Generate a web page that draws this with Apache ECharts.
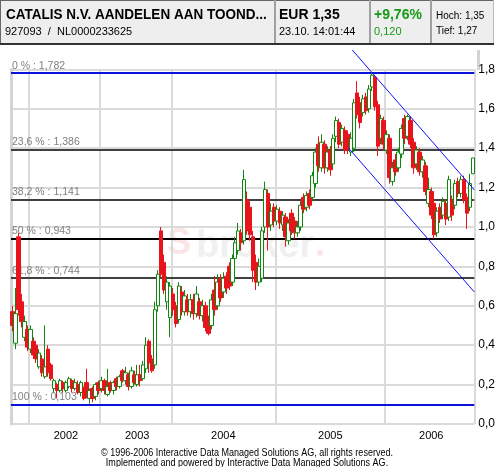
<!DOCTYPE html>
<html><head><meta charset="utf-8">
<script src="https://cdn.jsdelivr.net/npm/echarts@6/dist/echarts.min.js"></script>
<style>html,body{margin:0;padding:0;background:#fff}#c{width:498px;height:467px}</style>
</head><body><div id="c"></div>
<script>
// ---- data: one candle = [open, close, low, high] ----
const years = ['2001', '2002', '2003', '2004', '2005', '2006'];
const ohlc2001 = [[0.57,0.50,0.47,0.60],[0.41,0.56,0.38,0.69],[0.95,0.58,0.55,0.97],[0.62,0.52,0.49,0.66],[0.44,0.52,0.42,0.55],[0.48,0.39,0.37,0.50]];
const ohlc2002 = [[0.38,0.48,0.36,0.50],[0.42,0.35,0.33,0.44],[0.40,0.33,0.31,0.41],[0.29,0.36,0.28,0.38],[0.33,0.26,0.24,0.35],[0.24,0.29,0.23,0.50],
  [0.38,0.26,0.24,0.40],[0.30,0.23,0.22,0.31],[0.18,0.22,0.16,0.23],[0.20,0.17,0.13,0.21],[0.17,0.22,0.16,0.23],[0.21,0.18,0.16,0.22],
  [0.17,0.21,0.16,0.22],[0.19,0.23,0.18,0.24],[0.22,0.18,0.16,0.23],[0.18,0.21,0.17,0.23],[0.20,0.16,0.15,0.22],[0.16,0.21,0.14,0.22],
  [0.18,0.13,0.12,0.19],[0.21,0.15,0.13,0.28],[0.13,0.17,0.103,0.18],[0.18,0.13,0.11,0.19],[0.14,0.20,0.12,0.21],[0.21,0.17,0.15,0.22]];
const ohlc2003 = [[0.18,0.22,0.16,0.24],[0.22,0.17,0.15,0.23],[0.15,0.19,0.14,0.28],[0.21,0.17,0.16,0.22],[0.17,0.21,0.15,0.22],[0.23,0.19,0.17,0.24],
  [0.19,0.24,0.18,0.25],[0.27,0.22,0.21,0.28],[0.22,0.26,0.20,0.29],[0.25,0.19,0.17,0.26],[0.19,0.27,0.18,0.29],[0.25,0.21,0.20,0.27],
  [0.20,0.25,0.19,0.30],[0.25,0.22,0.19,0.30],[0.23,0.30,0.22,0.32],[0.28,0.40,0.26,0.44],[0.42,0.31,0.26,0.43],[0.33,0.27,0.26,0.35],
  [0.30,0.58,0.28,0.62],[0.60,0.76,0.57,0.78],[0.98,0.76,0.74,1.00],[0.82,0.68,0.66,0.86],[0.62,0.72,0.58,0.75],[0.54,0.70,0.44,0.72]];
const ohlc2004 = [[0.66,0.58,0.55,0.69],[0.60,0.51,0.49,0.62],[0.53,0.70,0.51,0.72],[0.67,0.57,0.55,0.70],[0.57,0.65,0.55,0.68],[0.63,0.57,0.55,0.66],
  [0.57,0.63,0.54,0.66],[0.63,0.56,0.53,0.66],[0.56,0.66,0.54,0.70],[0.62,0.55,0.53,0.64],[0.55,0.60,0.52,0.63],[0.60,0.49,0.47,0.62],
  [0.52,0.46,0.45,0.55],[0.50,0.63,0.48,0.66],[0.68,0.58,0.55,0.75],[0.60,0.72,0.58,0.76],[0.74,0.64,0.62,0.76],[0.67,0.74,0.64,0.77],
  [0.75,0.69,0.66,0.77],[0.80,0.70,0.68,0.82],[0.72,0.84,0.70,0.86],[0.84,0.92,0.82,0.95],[0.88,0.98,0.86,1.02],[0.97,0.92,0.88,0.99],
  [0.93,1.24,0.91,1.29],[1.14,0.98,0.96,1.18],[1.10,0.96,0.93,1.13],[0.95,0.78,0.72,0.98],[0.82,0.72,0.68,0.86],[0.72,0.80,0.70,0.84],
  [0.74,0.98,0.72,1.00],[1.00,1.19,0.97,1.23],[1.17,1.00,0.88,1.19],[1.01,1.08,0.98,1.12],[1.10,1.03,1.00,1.12]];
const ohlc2005 = [[1.03,1.09,1.01,1.11],[1.08,1.02,0.99,1.10],[1.01,1.06,0.98,1.08],[1.05,0.95,0.90,1.07],[0.93,1.02,0.91,1.04],[1.07,0.98,0.96,1.09],
  [1.03,0.97,0.94,1.05],[0.97,1.00,0.95,1.03],[1.00,1.11,0.98,1.13],[1.15,1.09,1.07,1.17],[1.10,1.16,1.08,1.18],[1.17,1.11,1.09,1.19],
  [1.15,1.26,1.13,1.28],[1.22,1.38,1.20,1.40],[1.42,1.31,1.28,1.46],[1.30,1.43,1.28,1.47],[1.42,1.30,1.27,1.44],[1.30,1.38,1.28,1.41],
  [1.39,1.29,1.26,1.41],[1.32,1.45,1.30,1.47],[1.46,1.54,1.43,1.56],[1.53,1.42,1.40,1.55],[1.43,1.50,1.41,1.52],[1.49,1.39,1.37,1.51],
  [1.47,1.39,1.37,1.49],[1.38,1.45,1.36,1.48],[1.40,1.63,1.38,1.65],[1.68,1.57,1.55,1.74],[1.63,1.53,1.50,1.66],[1.58,1.65,1.56,1.67],
  [1.66,1.59,1.57,1.68],[1.60,1.70,1.58,1.72],[1.71,1.77,1.69,1.782],[1.76,1.61,1.59,1.77],[1.62,1.41,1.36,1.64],[1.45,1.55,1.42,1.57],
  [1.54,1.42,1.39,1.56]];
const ohlc2006 = [[1.39,1.47,1.37,1.49],[1.45,1.25,1.22,1.47],[1.23,1.30,1.21,1.33],[1.34,1.28,1.26,1.37],[1.30,1.38,1.28,1.40],[1.37,1.50,1.35,1.52],
  [1.55,1.45,1.42,1.57],[1.46,1.56,1.44,1.57],[1.54,1.42,1.40,1.56],[1.43,1.30,1.27,1.45],[1.32,1.39,1.29,1.41],[1.38,1.28,1.26,1.40],
  [1.28,1.34,1.25,1.36],[1.31,1.18,1.16,1.33],[1.12,1.19,1.10,1.25],[1.18,1.06,1.04,1.20],[1.12,0.96,0.94,1.14],[0.97,1.08,0.95,1.10],
  [1.10,1.04,1.02,1.12],[1.06,1.13,1.04,1.15],[1.12,1.04,1.01,1.14],[1.05,1.24,1.03,1.26],[1.14,1.06,1.03,1.16],[1.11,1.22,1.09,1.24],
  [1.23,1.17,1.15,1.25],[1.17,1.24,1.15,1.26],[1.24,1.14,1.12,1.26],[1.15,1.07,0.99,1.17],[1.10,1.22,1.08,1.27],[1.27,1.35,1.27,1.35]];
const yTickLabels = ['0,0','0,2','0,4','0,6','0,8','1,0','1,2','1,4','1,6','1,8'];
const fibLevels = [1.782, 1.386, 1.141, 0.943, 0.744, 0.103];
const fibNames = ['0 %', '23,6 %', '38,2 %', '50 %', '61,8 %', '100 %'];
const fibColors = ['#0a14d8', '#404040', '#404040', '#000000', '#404040', '#0a14d8'];
// trend channel, in [candle position, price]
const upperTrend = [[114.9, 1.898], [156, 1.188]];
const lowerTrend = [[113.6, 1.401], [156, 0.670]];

// ---- build ----
const perYear = [ohlc2001, ohlc2002, ohlc2003, ohlc2004, ohlc2005, ohlc2006];
const categories = [], candles = [], yearStart = [], yearMid = [];
perYear.forEach((arr, k) => {
  yearStart.push(categories.length);
  yearMid.push(categories.length + Math.floor(arr.length / 2));
  arr.forEach((d, j) => { categories.push(years[k] + '/' + (j + 1)); candles.push(d); });
});
const N = categories.length;
const labelIdx = yearMid.slice(1);
const FONT = '"Liberation Sans", Arial, sans-serif';

const chart = echarts.init(document.getElementById('c'), null, {renderer: 'canvas'});
chart.setOption({
  animation: false,
  backgroundColor: '#ffffff',
  grid: {left: 11, right: 20, top: 69.3, bottom: 43, containLabel: false},
  xAxis: [{
    type: 'category', data: categories, boundaryGap: true,
    axisLine: {show: false}, axisTick: {show: false},
    axisLabel: {interval: (i) => labelIdx.indexOf(i) >= 0, formatter: (v) => v.split('/')[0],
      color: '#000', fontSize: 11, fontFamily: FONT, margin: 6},
    splitLine: {show: true, interval: (i) => yearStart.indexOf(i) >= 0, lineStyle: {color: '#dadada', width: 2}}
  }, {
    type: 'value', min: 0, max: N, show: false
  }],
  yAxis: [{
    type: 'value', position: 'right', min: 0, max: 1.8, interval: 0.2,
    axisLine: {show: true, lineStyle: {color: '#d4d4d4', width: 3}}, axisTick: {show: false},
    axisLabel: {formatter: (v, i) => yTickLabels[Math.round(v / 0.2)], color: '#000', fontSize: 12, fontFamily: FONT, margin: 4},
    splitLine: {show: true, lineStyle: {color: '#dadada', width: 2}}
  }],
  series: [{
    type: 'candlestick', xAxisIndex: 0, yAxisIndex: 0, data: candles, barWidth: 4, z: 3,
    itemStyle: {color: '#ffffff', color0: '#e8141c', borderColor: '#0f870f', borderColor0: '#e8141c', borderWidth: 1},
    markLine: {
      silent: true, symbol: 'none', z: 1, animation: false,
      data: fibLevels.map((v, i) => ({
        yAxis: v,
        lineStyle: {color: fibColors[i], width: 2, type: 'solid'},
        label: {show: true, position: 'insideStartTop', distance: [1, 2],
          formatter: fibNames[i] + ' : ' + v.toFixed(3).replace('.', ','),
          color: '#808080', fontSize: 10.5, fontFamily: FONT}
      }))
    }
  }, {
    type: 'line', xAxisIndex: 1, yAxisIndex: 0, data: upperTrend, symbol: 'none', clip: false, silent: true, z: 5,
    lineStyle: {color: '#1010ff', width: 1}
  }, {
    type: 'line', xAxisIndex: 1, yAxisIndex: 0, data: lowerTrend, symbol: 'none', clip: false, silent: true, z: 5,
    lineStyle: {color: '#1010ff', width: 1}
  }],
  graphic: [
    // watermark
    {type: 'text', z: -1, silent: true, style: {text: 'S', x: 167, y: 262, fill: '#fbe4e4', font: 'bold 36px ' + FONT, verticalAlign: 'bottom'}},
    {type: 'text', z: -1, silent: true, style: {text: 'broker', x: 196, y: 266, fill: '#f0f0f0', font: 'bold 38px ' + FONT, verticalAlign: 'bottom'}},
    {type: 'circle', z: -1, silent: true, shape: {cx: 320, cy: 253, r: 3}, style: {fill: '#fbe4e4'}},
    // right frame above top gridline
    {type: 'line', silent: true, shape: {x1: 478.5, y1: 50, x2: 478.5, y2: 70}, style: {stroke: '#d4d4d4', lineWidth: 3}},
    // header
    {type: 'rect', silent: true, shape: {x: 0, y: 0, width: 493, height: 44}, style: {fill: '#eeeeee'}},
    {type: 'line', silent: true, shape: {x1: 0, y1: 0.5, x2: 493, y2: 0.5}, style: {stroke: '#666', lineWidth: 1}},
    {type: 'line', silent: true, shape: {x1: 0.5, y1: 0, x2: 0.5, y2: 44}, style: {stroke: '#666', lineWidth: 1}},
    {type: 'line', silent: true, shape: {x1: 493.5, y1: 0, x2: 493.5, y2: 44}, style: {stroke: '#bbb', lineWidth: 1}},
    {type: 'line', silent: true, shape: {x1: 0, y1: 44, x2: 494, y2: 44}, style: {stroke: '#333', lineWidth: 2}},
    {type: 'line', silent: true, shape: {x1: 275, y1: 0, x2: 275, y2: 43}, style: {stroke: '#a0a0a0', lineWidth: 2}},
    {type: 'line', silent: true, shape: {x1: 370, y1: 0, x2: 370, y2: 43}, style: {stroke: '#a0a0a0', lineWidth: 2}},
    {type: 'line', silent: true, shape: {x1: 431, y1: 0, x2: 431, y2: 43}, style: {stroke: '#a0a0a0', lineWidth: 2}},
    {type: 'text', silent: true, x: 6, y: 15, scaleX: 0.965, style: {text: 'CATALIS N.V. AANDELEN AAN TOOND...', x: 0, y: 0, fill: '#000', font: 'bold 14px ' + FONT, verticalAlign: 'middle'}},
    {type: 'text', silent: true, style: {text: '927093  /  NL0000233625', x: 5, y: 31.5, fill: '#000', font: '11px ' + FONT, verticalAlign: 'middle'}},
    {type: 'text', silent: true, style: {text: 'EUR 1,35', x: 279, y: 15, fill: '#000', font: 'bold 14px ' + FONT, verticalAlign: 'middle'}},
    {type: 'text', silent: true, style: {text: '23.10. 14:01:44', x: 279, y: 31.5, fill: '#000', font: '11px ' + FONT, verticalAlign: 'middle'}},
    {type: 'text', silent: true, style: {text: '+9,76%', x: 374, y: 15, fill: '#169a16', font: 'bold 14px ' + FONT, verticalAlign: 'middle'}},
    {type: 'text', silent: true, style: {text: '0,120', x: 374, y: 31.5, fill: '#169a16', font: '11px ' + FONT, verticalAlign: 'middle'}},
    {type: 'text', silent: true, style: {text: 'Hoch: 1,35', x: 436, y: 16.5, fill: '#000', font: '10px ' + FONT, verticalAlign: 'middle'}},
    {type: 'text', silent: true, style: {text: 'Tief: 1,27', x: 436, y: 31.3, fill: '#000', font: '10px ' + FONT, verticalAlign: 'middle'}},
    // footer
    {type: 'text', silent: true, x: 247, y: 452.5, scaleX: 0.82, style: {text: '\u00a9 1996-2006 Interactive Data Managed Solutions AG, all rights reserved.', x: 0, y: 0, fill: '#000', font: '11px ' + FONT, align: 'center', verticalAlign: 'middle'}},
    {type: 'text', silent: true, x: 247, y: 463, scaleX: 0.82, style: {text: 'Implemented and powered by Interactive Data Managed Solutions AG.', x: 0, y: 0, fill: '#000', font: '11px ' + FONT, align: 'center', verticalAlign: 'middle'}}
  ]
});
</script></body></html>
